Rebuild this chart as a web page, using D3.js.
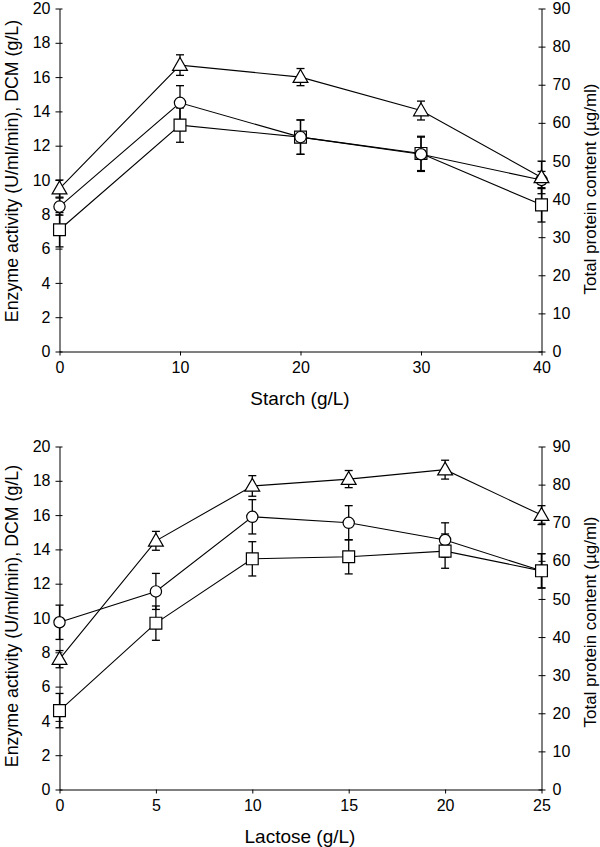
<!DOCTYPE html>
<html><head><meta charset="utf-8">
<script src="https://cdn.jsdelivr.net/npm/d3@7"></script>
<style>body{margin:0;background:#fff}svg{display:block}text{font-family:"Liberation Sans",Arial,sans-serif;fill:#000}</style>
</head><body><svg id="c" width="600" height="847"></svg>
<script>
// ---- Top panel: Starch ----
const starchX = [0, 10, 20, 30, 40];
const starchTriangle = [9.5, 16.7, 16.0, 14.05, 10.15];
const starchTriangleErr = [0.5, 0.6, 0.5, 0.55, 0.95];
const starchCircle = [8.45, 14.5, 12.5, 11.5, 10.0];
const starchCircleErr = [0.5, 1.0, 1.0, 1.0, 0.5];
const starchSquare = [7.1, 13.2, 12.5, 11.55, 8.55];
const starchSquareErr = [1.0, 1.0, 1.0, 1.0, 1.0];
const starchTicks = [0, 10, 20, 30, 40];

// ---- Bottom panel: Lactose ----
const lactoseX = [0, 5, 10, 15, 20, 25];
const lactoseTriangle = [7.6, 14.5, 17.7, 18.1, 18.65, 16.0];
const lactoseTriangleErr = [0.5, 0.55, 0.6, 0.5, 0.55, 0.55];
const lactoseCircle = [9.75, 11.55, 15.9, 15.55, 14.55, 12.75];
const lactoseCircleErr = [1.0, 1.05, 1.0, 1.0, 1.0, 1.0];
const lactoseSquare = [4.6, 9.7, 13.45, 13.57, 13.9, 12.75];
const lactoseSquareErr = [1.0, 1.0, 1.0, 1.0, 1.0, 1.0];
const lactoseTicks = [0, 5, 10, 15, 20, 25];

const leftTicks = [0, 2, 4, 6, 8, 10, 12, 14, 16, 18, 20];
const rightTicks = [0, 10, 20, 30, 40, 50, 60, 70, 80, 90];
const leftLabel = "Enzyme activity (U/ml/min),  DCM (g/L)";
const rightLabel = "Total protein content (\u00b5g/ml)";

const svg = d3.select("#c");

function panel(cfg) {
  const g = svg.append("g");
  const x = d3.scaleLinear().domain(cfg.xDomain).range([59.5, 541.5]);
  const y = d3.scaleLinear().domain([0, 20]).range([cfg.bottom, cfg.top]);
  const yR = d3.scaleLinear().domain([0, 90]).range([cfg.bottom, cfg.top]);

  // axes
  const ax = g.append("g").attr("transform", `translate(0,${cfg.bottom})`)
    .call(d3.axisBottom(x).tickValues(cfg.xTicks).tickSize(4).tickSizeOuter(0).tickPadding(6));
  const ay = g.append("g").attr("transform", `translate(59.5,0)`)
    .call(d3.axisLeft(y).tickValues(leftTicks).tickSize(4).tickSizeOuter(0).tickPadding(5));
  const ayR = g.append("g").attr("transform", `translate(541.5,0)`)
    .call(d3.axisRight(yR).tickValues(rightTicks).tickSize(4).tickSizeOuter(0).tickPadding(7));
  [ax, ay, ayR].forEach(a => {
    a.selectAll("text").style("font-size", "16px").attr("fill", "#000");
    a.selectAll("line").attr("stroke", "#000");
    a.select(".domain").attr("stroke", "#000");
  });
  ay.selectAll(".tick line").attr("x1", 3);
  ayR.selectAll(".tick line").attr("x1", -3);

  // labels
  g.append("text").attr("transform", `translate(17.5,${cfg.leftLabelY}) rotate(-90)`)
    .attr("text-anchor", "middle").style("font-size", "17.8px").text(leftLabel);
  g.append("text").attr("transform", `translate(596,${cfg.rightLabelY}) rotate(-90)`)
    .attr("text-anchor", "middle").style("font-size", "17px").text(rightLabel);
  g.append("text").attr("x", 300).attr("y", cfg.bottom + 53)
    .attr("text-anchor", "middle").style("font-size", "19px").text(cfg.xLabel);

  const series = cfg.series;
  // error bars
  series.forEach(s => {
    s.v.forEach((v, i) => {
      const cx = x(cfg.xs[i]);
      const y1 = y(v + s.e[i]), y2 = y(v - s.e[i]);
      g.append("line").attr("x1", cx).attr("x2", cx).attr("y1", y1).attr("y2", y2).attr("stroke", "#000").attr("stroke-width", 1.3);
      [y1, y2].forEach(yy => g.append("line").attr("x1", cx - 4).attr("x2", cx + 4).attr("y1", yy).attr("y2", yy).attr("stroke", "#000").attr("stroke-width", 1.3));
    });
  });
  // lines
  const line = d3.line().x((d, i) => x(cfg.xs[i])).y(d => y(d));
  series.forEach(s => {
    g.append("path").attr("d", line(s.v)).attr("fill", "none").attr("stroke", "#000").attr("stroke-width", 1.1);
  });
  // markers
  const symSize = { tri: 95, circle: 100, square: 140 };
  const symType = { tri: d3.symbolTriangle, circle: d3.symbolCircle, square: d3.symbolSquare };
  series.forEach(s => {
    s.v.forEach((v, i) => {
      g.append("path")
        .attr("d", d3.symbol().type(symType[s.shape]).size(symSize[s.shape])())
        .attr("transform", `translate(${x(cfg.xs[i])},${y(v) + (s.shape === "tri" ? 1 : 0)})`)
        .attr("fill", "#fff").attr("stroke", "#000").attr("stroke-width", 1.2);
    });
  });
}

panel({
  xDomain: [0, 40], xTicks: starchTicks, xs: starchX, top: 8.5, bottom: 351.5,
  xLabel: "Starch (g/L)", leftLabelY: 171, rightLabelY: 189,
  series: [
    { v: starchSquare, e: starchSquareErr, shape: "square" },
    { v: starchCircle, e: starchCircleErr, shape: "circle" },
    { v: starchTriangle, e: starchTriangleErr, shape: "tri" }
  ]
});
panel({
  xDomain: [0, 25], xTicks: lactoseTicks, xs: lactoseX, top: 446.5, bottom: 789.5,
  xLabel: "Lactose (g/L)", leftLabelY: 616, rightLabelY: 622,
  series: [
    { v: lactoseCircle, e: lactoseCircleErr, shape: "circle" },
    { v: lactoseSquare, e: lactoseSquareErr, shape: "square" },
    { v: lactoseTriangle, e: lactoseTriangleErr, shape: "tri" }
  ]
});
</script></body></html>
